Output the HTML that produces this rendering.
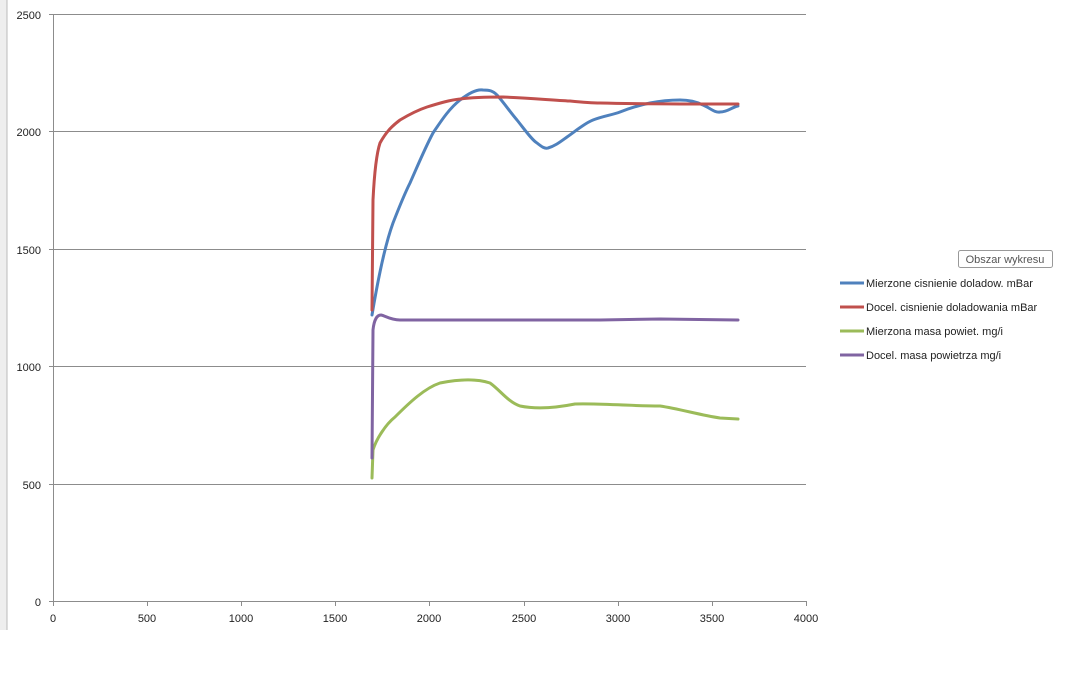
<!DOCTYPE html>
<html><head><style>
body{margin:0;background:#fff;}
svg text{font-family:"Liberation Sans",sans-serif;}
</style></head><body>
<svg width="1074" height="695" viewBox="0 0 1074 695" xmlns="http://www.w3.org/2000/svg">
<rect width="1074" height="695" fill="#fff"/>
<rect x="0" y="0" width="7" height="630" fill="#eeeeee"/>
<line x1="7" y1="0" x2="7" y2="630" stroke="#bbb"/>
<g stroke="#8c8c8c" stroke-width="1">
<line x1="49" y1="14.5" x2="806" y2="14.5"/>
<line x1="49" y1="131.5" x2="806" y2="131.5"/>
<line x1="49" y1="249.5" x2="806" y2="249.5"/>
<line x1="49" y1="366.5" x2="806" y2="366.5"/>
<line x1="49" y1="484.5" x2="806" y2="484.5"/>
<line x1="49" y1="601.5" x2="806" y2="601.5"/>
<line x1="53.5" y1="14" x2="53.5" y2="606"/>
<line x1="147.5" y1="601" x2="147.5" y2="606"/>
<line x1="241.5" y1="601" x2="241.5" y2="606"/>
<line x1="335.5" y1="601" x2="335.5" y2="606"/>
<line x1="429.5" y1="601" x2="429.5" y2="606"/>
<line x1="524.5" y1="601" x2="524.5" y2="606"/>
<line x1="618.5" y1="601" x2="618.5" y2="606"/>
<line x1="712.5" y1="601" x2="712.5" y2="606"/>
<line x1="806.5" y1="601" x2="806.5" y2="606"/>
</g>
<g font-size="11" fill="#222" text-anchor="end">
<text x="41" y="19">2500</text><text x="41" y="136">2000</text><text x="41" y="254">1500</text>
<text x="41" y="371">1000</text><text x="41" y="489">500</text><text x="41" y="606">0</text>
</g>
<g font-size="11" fill="#222" text-anchor="middle">
<text x="53" y="622">0</text><text x="147" y="622">500</text><text x="241" y="622">1000</text>
<text x="335" y="622">1500</text><text x="429" y="622">2000</text><text x="524" y="622">2500</text>
<text x="618" y="622">3000</text><text x="712" y="622">3500</text><text x="806" y="622">4000</text>
</g>
<g fill="none" stroke-width="3" stroke-linejoin="round" stroke-linecap="round">
<path stroke="#9bbb59" d="M372,478 L373,450 C376,440 385,425 395,417 C410,402 425,388 440,383 C455,380 475,378 490,383 C500,390 508,402 520,406 C535,409 555,408 575,404 C595,403 630,406 660,406 C680,409 700,415 720,418 L738,419"/>
<path stroke="#8064a2" d="M372,458 L373,330 C374,320 377,315 381,315 C386,316 390,320 400,320 L600,320 L660,319 L738,320"/>
<path stroke="#4f81bd" d="M372,315 C377,285 385,245 393,223 C400,205 405,193 410,183 C418,165 425,148 433,133 C443,118 450,108 460,100 C468,94 476,89 483,90 C490,90 493,91 497,95 C505,104 510,112 517,120 C525,130 532,140 537,143 C542,147 545,149 548,148 C555,146 560,142 567,137 C577,130 585,123 593,120 C603,116 612,115 620,112 C630,108 640,105 650,103 C660,101 670,100 680,100 C690,100 697,102 703,105 C710,108 715,113 720,112 C728,112 732,107 738,106"/>
<path stroke="#c0504d" d="M372,310 L373,200 C374,180 376,155 380,143 C386,132 392,126 400,120 C410,114 418,110 427,107 C440,103 450,100 460,99 C475,97 490,97 503,97 C530,98 550,100 570,101 C580,102 590,103 600,103 C640,104 690,104 738,104"/>
</g>
<rect x="958.5" y="250.5" width="94" height="17" rx="2" fill="#fff" stroke="#999"/>
<text x="1005" y="263" font-size="11" fill="#555" text-anchor="middle">Obszar wykresu</text>
<g stroke-width="3">
<line x1="840" y1="283" x2="864" y2="283" stroke="#4f81bd"/>
<line x1="840" y1="307" x2="864" y2="307" stroke="#c0504d"/>
<line x1="840" y1="331" x2="864" y2="331" stroke="#9bbb59"/>
<line x1="840" y1="355" x2="864" y2="355" stroke="#8064a2"/>
</g>
<g font-size="11" fill="#222">
<text x="866" y="287">Mierzone cisnienie doladow. mBar</text>
<text x="866" y="311">Docel. cisnienie doladowania mBar</text>
<text x="866" y="335">Mierzona masa powiet. mg/i</text>
<text x="866" y="359">Docel. masa powietrza mg/i</text>
</g>
</svg>
</body></html>
